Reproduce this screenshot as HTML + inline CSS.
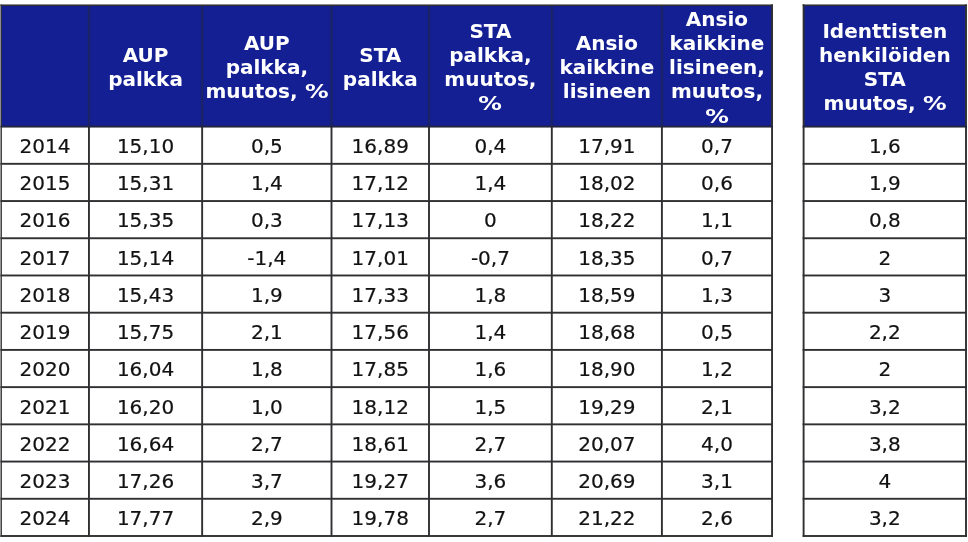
<!DOCTYPE html>
<html lang="fi"><head><meta charset="utf-8"><title>Palkkataulukko</title>
<style>
html,body{margin:0;padding:0;background:#fff;}
body{width:968px;height:542px;overflow:hidden;position:relative;font-family:"DejaVu Sans","Liberation Sans",sans-serif;}
svg{display:block;position:absolute;left:0;top:0;}
.b{fill:#303033;}
.bh{fill:#1c2564;}
.bh2{fill:#172082;}
.bb{fill:#23253c;}
.hd{fill:#141f93;}
.h,.c{position:absolute;margin:0;text-align:center;white-space:nowrap;}
.h{color:#fff;font-weight:bold;font-size:20px;line-height:24.2px;}
.c{color:#121212;-webkit-text-stroke:0.2px #121212;font-size:20px;line-height:37.22px;height:37.22px;}
.p{display:inline-block;transform:scaleX(1.18);transform-origin:50% 50%;}
.pm{display:inline-block;transform:scaleX(1.18);transform-origin:0 50%;margin-right:3.61px;}
</style></head><body>
<svg width="968" height="542" viewBox="0 0 968 542">

<rect class="hd" x="0.9" y="5.2" width="771.15" height="121.4"/>
<rect class="hd" x="803.6" y="5.2" width="162.4" height="121.4"/>
<rect class="b" x="0.5" y="4.45" width="1.4" height="532.5"/>
<rect class="bh2" x="87.25" y="5.2" width="3.4" height="121.4"/>
<rect class="bh" x="88.15" y="5.2" width="1.6" height="121.4"/>
<rect class="b" x="88" y="126.6" width="1.9" height="410.35"/>
<rect class="bh2" x="200.45" y="5.2" width="3.4" height="121.4"/>
<rect class="bh" x="201.35" y="5.2" width="1.6" height="121.4"/>
<rect class="b" x="201.2" y="126.6" width="1.9" height="410.35"/>
<rect class="bh2" x="329.8" y="5.2" width="3.4" height="121.4"/>
<rect class="bh" x="330.7" y="5.2" width="1.6" height="121.4"/>
<rect class="b" x="330.55" y="126.6" width="1.9" height="410.35"/>
<rect class="bh2" x="427.3" y="5.2" width="3.4" height="121.4"/>
<rect class="bh" x="428.2" y="5.2" width="1.6" height="121.4"/>
<rect class="b" x="428.05" y="126.6" width="1.9" height="410.35"/>
<rect class="bh2" x="550.1" y="5.2" width="3.4" height="121.4"/>
<rect class="bh" x="551" y="5.2" width="1.6" height="121.4"/>
<rect class="b" x="550.85" y="126.6" width="1.9" height="410.35"/>
<rect class="bh2" x="660.2" y="5.2" width="3.4" height="121.4"/>
<rect class="bh" x="661.1" y="5.2" width="1.6" height="121.4"/>
<rect class="b" x="660.95" y="126.6" width="1.9" height="410.35"/>
<rect class="b" x="771.1" y="4.45" width="1.9" height="532.5"/>
<rect class="b" x="802.65" y="4.45" width="1.9" height="532.5"/>
<rect class="b" x="965.05" y="4.45" width="1.9" height="532.5"/>
<rect class="b" x="0.5" y="4.45" width="772.5" height="1.6"/>
<rect class="b" x="802.65" y="4.45" width="164.3" height="1.6"/>
<rect class="bb" x="0.5" y="125.65" width="772.5" height="1.9"/>
<rect class="bb" x="802.65" y="125.65" width="164.3" height="1.9"/>
<rect class="b" x="0.5" y="162.87" width="772.5" height="1.9"/>
<rect class="b" x="802.65" y="162.87" width="164.3" height="1.9"/>
<rect class="b" x="0.5" y="200.09" width="772.5" height="1.9"/>
<rect class="b" x="802.65" y="200.09" width="164.3" height="1.9"/>
<rect class="b" x="0.5" y="237.3" width="772.5" height="1.9"/>
<rect class="b" x="802.65" y="237.3" width="164.3" height="1.9"/>
<rect class="b" x="0.5" y="274.52" width="772.5" height="1.9"/>
<rect class="b" x="802.65" y="274.52" width="164.3" height="1.9"/>
<rect class="b" x="0.5" y="311.74" width="772.5" height="1.9"/>
<rect class="b" x="802.65" y="311.74" width="164.3" height="1.9"/>
<rect class="b" x="0.5" y="348.96" width="772.5" height="1.9"/>
<rect class="b" x="802.65" y="348.96" width="164.3" height="1.9"/>
<rect class="b" x="0.5" y="386.18" width="772.5" height="1.9"/>
<rect class="b" x="802.65" y="386.18" width="164.3" height="1.9"/>
<rect class="b" x="0.5" y="423.4" width="772.5" height="1.9"/>
<rect class="b" x="802.65" y="423.4" width="164.3" height="1.9"/>
<rect class="b" x="0.5" y="460.61" width="772.5" height="1.9"/>
<rect class="b" x="802.65" y="460.61" width="164.3" height="1.9"/>
<rect class="b" x="0.5" y="497.83" width="772.5" height="1.9"/>
<rect class="b" x="802.65" y="497.83" width="164.3" height="1.9"/>
<rect class="b" x="0.5" y="535.05" width="772.5" height="1.9"/>
<rect class="b" x="802.65" y="535.05" width="164.3" height="1.9"/>
</svg>
<div class="h" style="left:88.95px;width:113.2px;top:43px">AUP<br>palkka</div>
<div class="h" style="left:202.15px;width:129.35px;top:30.9px">AUP<br>palkka,<br>muutos, <span class="pm">%</span></div>
<div class="h" style="left:331.5px;width:97.5px;top:43px">STA<br>palkka</div>
<div class="h" style="left:429px;width:122.8px;top:18.8px">STA<br>palkka,<br>muutos,<br><span class="p">%</span></div>
<div class="h" style="left:551.8px;width:110.1px;top:30.9px">Ansio<br>kaikkine<br>lisineen</div>
<div class="h" style="left:661.9px;width:110.15px;top:6.7px">Ansio<br>kaikkine<br>lisineen,<br>muutos,<br><span class="p">%</span></div>
<div class="h" style="left:803.6px;width:162.4px;top:18.8px">Identtisten<br>henkilöiden<br>STA<br>muutos, <span class="pm">%</span></div>
<div class="c" style="left:0.9px;width:88.05px;top:127.99px">2014</div>
<div class="c" style="left:88.95px;width:113.2px;top:127.99px">15,10</div>
<div class="c" style="left:202.15px;width:129.35px;top:127.99px">0,5</div>
<div class="c" style="left:331.5px;width:97.5px;top:127.99px">16,89</div>
<div class="c" style="left:429px;width:122.8px;top:127.99px">0,4</div>
<div class="c" style="left:551.8px;width:110.1px;top:127.99px">17,91</div>
<div class="c" style="left:661.9px;width:110.15px;top:127.99px">0,7</div>
<div class="c" style="left:803.6px;width:162.4px;top:127.99px">1,6</div>
<div class="c" style="left:0.9px;width:88.05px;top:165.21px">2015</div>
<div class="c" style="left:88.95px;width:113.2px;top:165.21px">15,31</div>
<div class="c" style="left:202.15px;width:129.35px;top:165.21px">1,4</div>
<div class="c" style="left:331.5px;width:97.5px;top:165.21px">17,12</div>
<div class="c" style="left:429px;width:122.8px;top:165.21px">1,4</div>
<div class="c" style="left:551.8px;width:110.1px;top:165.21px">18,02</div>
<div class="c" style="left:661.9px;width:110.15px;top:165.21px">0,6</div>
<div class="c" style="left:803.6px;width:162.4px;top:165.21px">1,9</div>
<div class="c" style="left:0.9px;width:88.05px;top:202.43px">2016</div>
<div class="c" style="left:88.95px;width:113.2px;top:202.43px">15,35</div>
<div class="c" style="left:202.15px;width:129.35px;top:202.43px">0,3</div>
<div class="c" style="left:331.5px;width:97.5px;top:202.43px">17,13</div>
<div class="c" style="left:429px;width:122.8px;top:202.43px">0</div>
<div class="c" style="left:551.8px;width:110.1px;top:202.43px">18,22</div>
<div class="c" style="left:661.9px;width:110.15px;top:202.43px">1,1</div>
<div class="c" style="left:803.6px;width:162.4px;top:202.43px">0,8</div>
<div class="c" style="left:0.9px;width:88.05px;top:239.65px">2017</div>
<div class="c" style="left:88.95px;width:113.2px;top:239.65px">15,14</div>
<div class="c" style="left:202.15px;width:129.35px;top:239.65px">-1,4</div>
<div class="c" style="left:331.5px;width:97.5px;top:239.65px">17,01</div>
<div class="c" style="left:429px;width:122.8px;top:239.65px">-0,7</div>
<div class="c" style="left:551.8px;width:110.1px;top:239.65px">18,35</div>
<div class="c" style="left:661.9px;width:110.15px;top:239.65px">0,7</div>
<div class="c" style="left:803.6px;width:162.4px;top:239.65px">2</div>
<div class="c" style="left:0.9px;width:88.05px;top:276.86px">2018</div>
<div class="c" style="left:88.95px;width:113.2px;top:276.86px">15,43</div>
<div class="c" style="left:202.15px;width:129.35px;top:276.86px">1,9</div>
<div class="c" style="left:331.5px;width:97.5px;top:276.86px">17,33</div>
<div class="c" style="left:429px;width:122.8px;top:276.86px">1,8</div>
<div class="c" style="left:551.8px;width:110.1px;top:276.86px">18,59</div>
<div class="c" style="left:661.9px;width:110.15px;top:276.86px">1,3</div>
<div class="c" style="left:803.6px;width:162.4px;top:276.86px">3</div>
<div class="c" style="left:0.9px;width:88.05px;top:314.08px">2019</div>
<div class="c" style="left:88.95px;width:113.2px;top:314.08px">15,75</div>
<div class="c" style="left:202.15px;width:129.35px;top:314.08px">2,1</div>
<div class="c" style="left:331.5px;width:97.5px;top:314.08px">17,56</div>
<div class="c" style="left:429px;width:122.8px;top:314.08px">1,4</div>
<div class="c" style="left:551.8px;width:110.1px;top:314.08px">18,68</div>
<div class="c" style="left:661.9px;width:110.15px;top:314.08px">0,5</div>
<div class="c" style="left:803.6px;width:162.4px;top:314.08px">2,2</div>
<div class="c" style="left:0.9px;width:88.05px;top:351.3px">2020</div>
<div class="c" style="left:88.95px;width:113.2px;top:351.3px">16,04</div>
<div class="c" style="left:202.15px;width:129.35px;top:351.3px">1,8</div>
<div class="c" style="left:331.5px;width:97.5px;top:351.3px">17,85</div>
<div class="c" style="left:429px;width:122.8px;top:351.3px">1,6</div>
<div class="c" style="left:551.8px;width:110.1px;top:351.3px">18,90</div>
<div class="c" style="left:661.9px;width:110.15px;top:351.3px">1,2</div>
<div class="c" style="left:803.6px;width:162.4px;top:351.3px">2</div>
<div class="c" style="left:0.9px;width:88.05px;top:388.52px">2021</div>
<div class="c" style="left:88.95px;width:113.2px;top:388.52px">16,20</div>
<div class="c" style="left:202.15px;width:129.35px;top:388.52px">1,0</div>
<div class="c" style="left:331.5px;width:97.5px;top:388.52px">18,12</div>
<div class="c" style="left:429px;width:122.8px;top:388.52px">1,5</div>
<div class="c" style="left:551.8px;width:110.1px;top:388.52px">19,29</div>
<div class="c" style="left:661.9px;width:110.15px;top:388.52px">2,1</div>
<div class="c" style="left:803.6px;width:162.4px;top:388.52px">3,2</div>
<div class="c" style="left:0.9px;width:88.05px;top:425.74px">2022</div>
<div class="c" style="left:88.95px;width:113.2px;top:425.74px">16,64</div>
<div class="c" style="left:202.15px;width:129.35px;top:425.74px">2,7</div>
<div class="c" style="left:331.5px;width:97.5px;top:425.74px">18,61</div>
<div class="c" style="left:429px;width:122.8px;top:425.74px">2,7</div>
<div class="c" style="left:551.8px;width:110.1px;top:425.74px">20,07</div>
<div class="c" style="left:661.9px;width:110.15px;top:425.74px">4,0</div>
<div class="c" style="left:803.6px;width:162.4px;top:425.74px">3,8</div>
<div class="c" style="left:0.9px;width:88.05px;top:462.95px">2023</div>
<div class="c" style="left:88.95px;width:113.2px;top:462.95px">17,26</div>
<div class="c" style="left:202.15px;width:129.35px;top:462.95px">3,7</div>
<div class="c" style="left:331.5px;width:97.5px;top:462.95px">19,27</div>
<div class="c" style="left:429px;width:122.8px;top:462.95px">3,6</div>
<div class="c" style="left:551.8px;width:110.1px;top:462.95px">20,69</div>
<div class="c" style="left:661.9px;width:110.15px;top:462.95px">3,1</div>
<div class="c" style="left:803.6px;width:162.4px;top:462.95px">4</div>
<div class="c" style="left:0.9px;width:88.05px;top:500.17px">2024</div>
<div class="c" style="left:88.95px;width:113.2px;top:500.17px">17,77</div>
<div class="c" style="left:202.15px;width:129.35px;top:500.17px">2,9</div>
<div class="c" style="left:331.5px;width:97.5px;top:500.17px">19,78</div>
<div class="c" style="left:429px;width:122.8px;top:500.17px">2,7</div>
<div class="c" style="left:551.8px;width:110.1px;top:500.17px">21,22</div>
<div class="c" style="left:661.9px;width:110.15px;top:500.17px">2,6</div>
<div class="c" style="left:803.6px;width:162.4px;top:500.17px">3,2</div>
</body></html>
